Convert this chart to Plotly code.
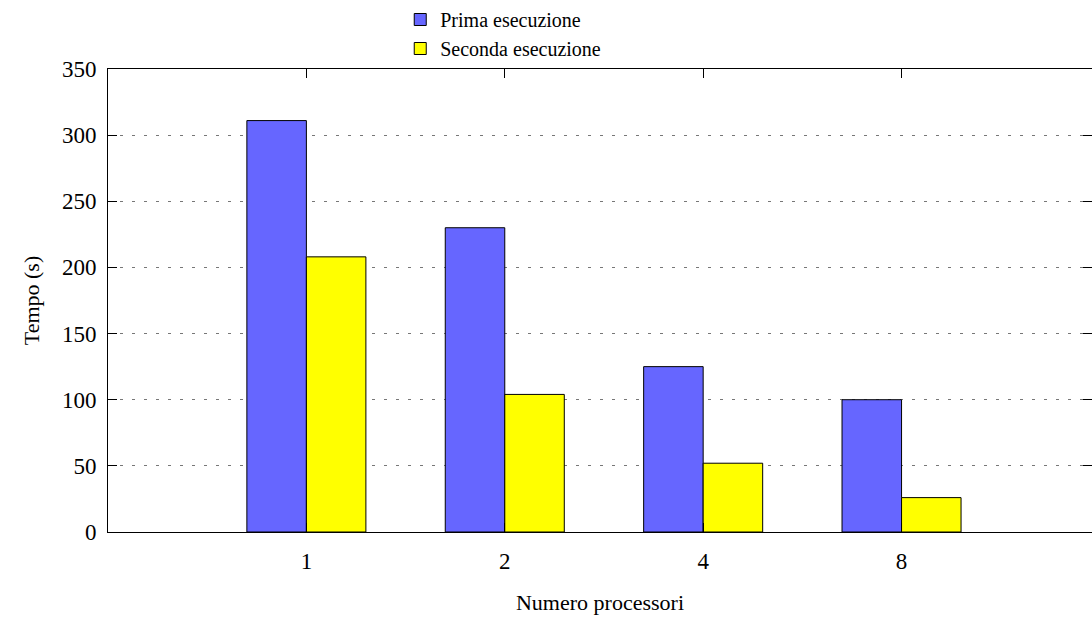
import plotly.graph_objects as go

categories = ["1", "2", "4", "8"]
prima = [311, 230, 125, 100]
seconda = [208, 104, 52, 26]
y_ticks = [0, 50, 100, 150, 200, 250, 300, 350]

font_family = "Liberation Serif, Times New Roman, serif"

fig = go.Figure()
fig.add_trace(go.Bar(
    x=list(range(len(categories))), y=prima, name="Prima esecuzione",
    marker=dict(color="#6666ff", line=dict(color="black", width=1)),
))
fig.add_trace(go.Bar(
    x=list(range(len(categories))), y=seconda, name="Seconda esecuzione",
    marker=dict(color="#ffff00", line=dict(color="black", width=1)),
))

fig.update_layout(
    width=1092, height=617,
    margin=dict(l=108, r=0, t=67, b=85),
    paper_bgcolor="white", plot_bgcolor="white",
    barmode="group", bargap=0.4, bargroupgap=0,
    font=dict(family=font_family, size=23, color="black"),
    legend=dict(
        x=0.297, xanchor="left", y=1.15, yanchor="top",
        font=dict(family=font_family, size=20),
        bgcolor="rgba(0,0,0,0)", tracegroupgap=0, itemwidth=30,
    ),
    showlegend=True,
)
fig.update_xaxes(
    range=[-1, 3.96],
    tickmode="array", tickvals=list(range(len(categories))), ticktext=categories,
    ticks="inside", ticklen=9, tickcolor="black",
    showline=True, linecolor="black", linewidth=1, mirror="ticks",
    showgrid=False, zeroline=False,
    ticklabelstandoff=8,
    title=dict(text="Numero processori", font=dict(size=22), standoff=22),
)
fig.update_yaxes(
    range=[0, 350],
    tickmode="array", tickvals=y_ticks,
    ticks="inside", ticklen=9, tickcolor="black",
    showline=True, linecolor="black", linewidth=1, mirror="ticks",
    showgrid=True, gridcolor="#777777", griddash="3px,9px", gridwidth=1,
    zeroline=False,
    ticklabelstandoff=6,
    title=dict(text="Tempo (s)", font=dict(size=22), standoff=16),
)

fig.write_html("out.html")
